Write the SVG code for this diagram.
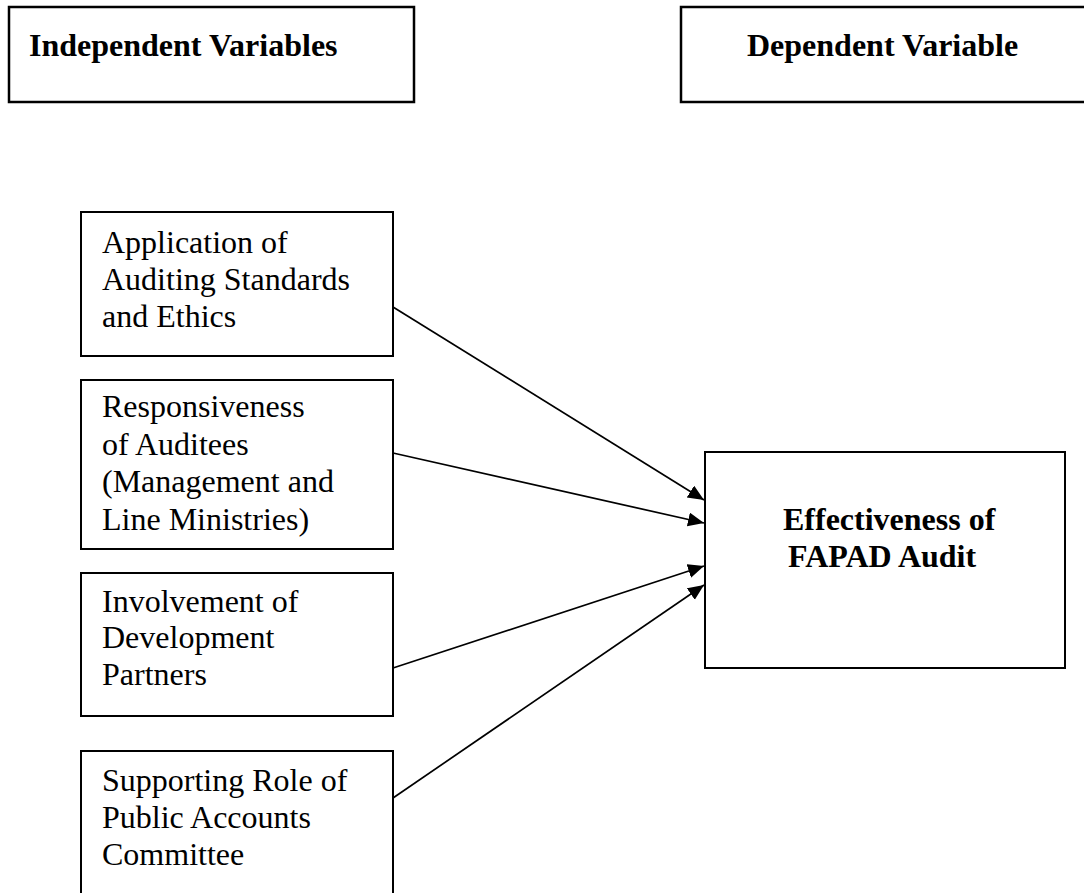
<svg xmlns="http://www.w3.org/2000/svg" width="1084" height="893" viewBox="0 0 1084 893">
<style>
.box{fill:#fff;stroke:#000;stroke-width:2}
.hdr{fill:#fff;stroke:#000;stroke-width:2.5}
.t{font-family:"Liberation Serif","Times New Roman",serif;font-size:32px;fill:#000}
.b{font-weight:bold}
.c{stroke:#000;stroke-width:1.7;fill:none;marker-end:url(#ah)}
</style>
<defs>
<marker id="ah" markerUnits="userSpaceOnUse" markerWidth="17" markerHeight="15" refX="16" refY="7" orient="auto" viewBox="0 0 17 15">
<path d="M0,0 L16,7 L0,14 z" fill="#000"/>
</marker>
</defs>
<rect width="1084" height="893" fill="#fff"/>
<g id="independent-header">
<rect class="hdr" x="9" y="7" width="405" height="95"/>
<text class="t b" x="29" y="56">Independent Variables</text>
</g>
<g id="dependent-header">
<rect class="hdr" x="681" y="7" width="420" height="95"/>
<text class="t b" x="747" y="56">Dependent Variable</text>
</g>
<g id="node-standards">
<rect class="box" x="81" y="212" width="312" height="144"/>
<text class="t" x="102" y="253">Application of</text>
<text class="t" x="102" y="290">Auditing Standards</text>
<text class="t" x="102" y="327">and Ethics</text>
</g>
<g id="node-auditees">
<rect class="box" x="81" y="380" width="312" height="169"/>
<text class="t" x="102" y="417">Responsiveness</text>
<text class="t" x="102" y="455">of Auditees</text>
<text class="t" x="102" y="492">(Management and</text>
<text class="t" x="102" y="530">Line Ministries)</text>
</g>
<g id="node-partners">
<rect class="box" x="81" y="573" width="312" height="143"/>
<text class="t" x="102" y="612">Involvement of</text>
<text class="t" x="102" y="648">Development</text>
<text class="t" x="102" y="685">Partners</text>
</g>
<g id="node-pac">
<rect class="box" x="81" y="751" width="312" height="160"/>
<text class="t" x="102" y="791">Supporting Role of</text>
<text class="t" x="102" y="828">Public Accounts</text>
<text class="t" x="102" y="865">Committee</text>
</g>
<g id="node-effectiveness">
<rect class="box" x="705" y="452" width="360" height="216"/>
<text class="t b" x="783" y="530">Effectiveness of</text>
<text class="t b" x="788" y="567">FAPAD Audit</text>
</g>
<g id="connectors">
<line class="c" x1="393" y1="307" x2="704" y2="500"/>
<line class="c" x1="393" y1="453" x2="704" y2="523"/>
<line class="c" x1="393" y1="668" x2="704" y2="566"/>
<line class="c" x1="393" y1="798" x2="704" y2="585"/>
</g>
</svg>
